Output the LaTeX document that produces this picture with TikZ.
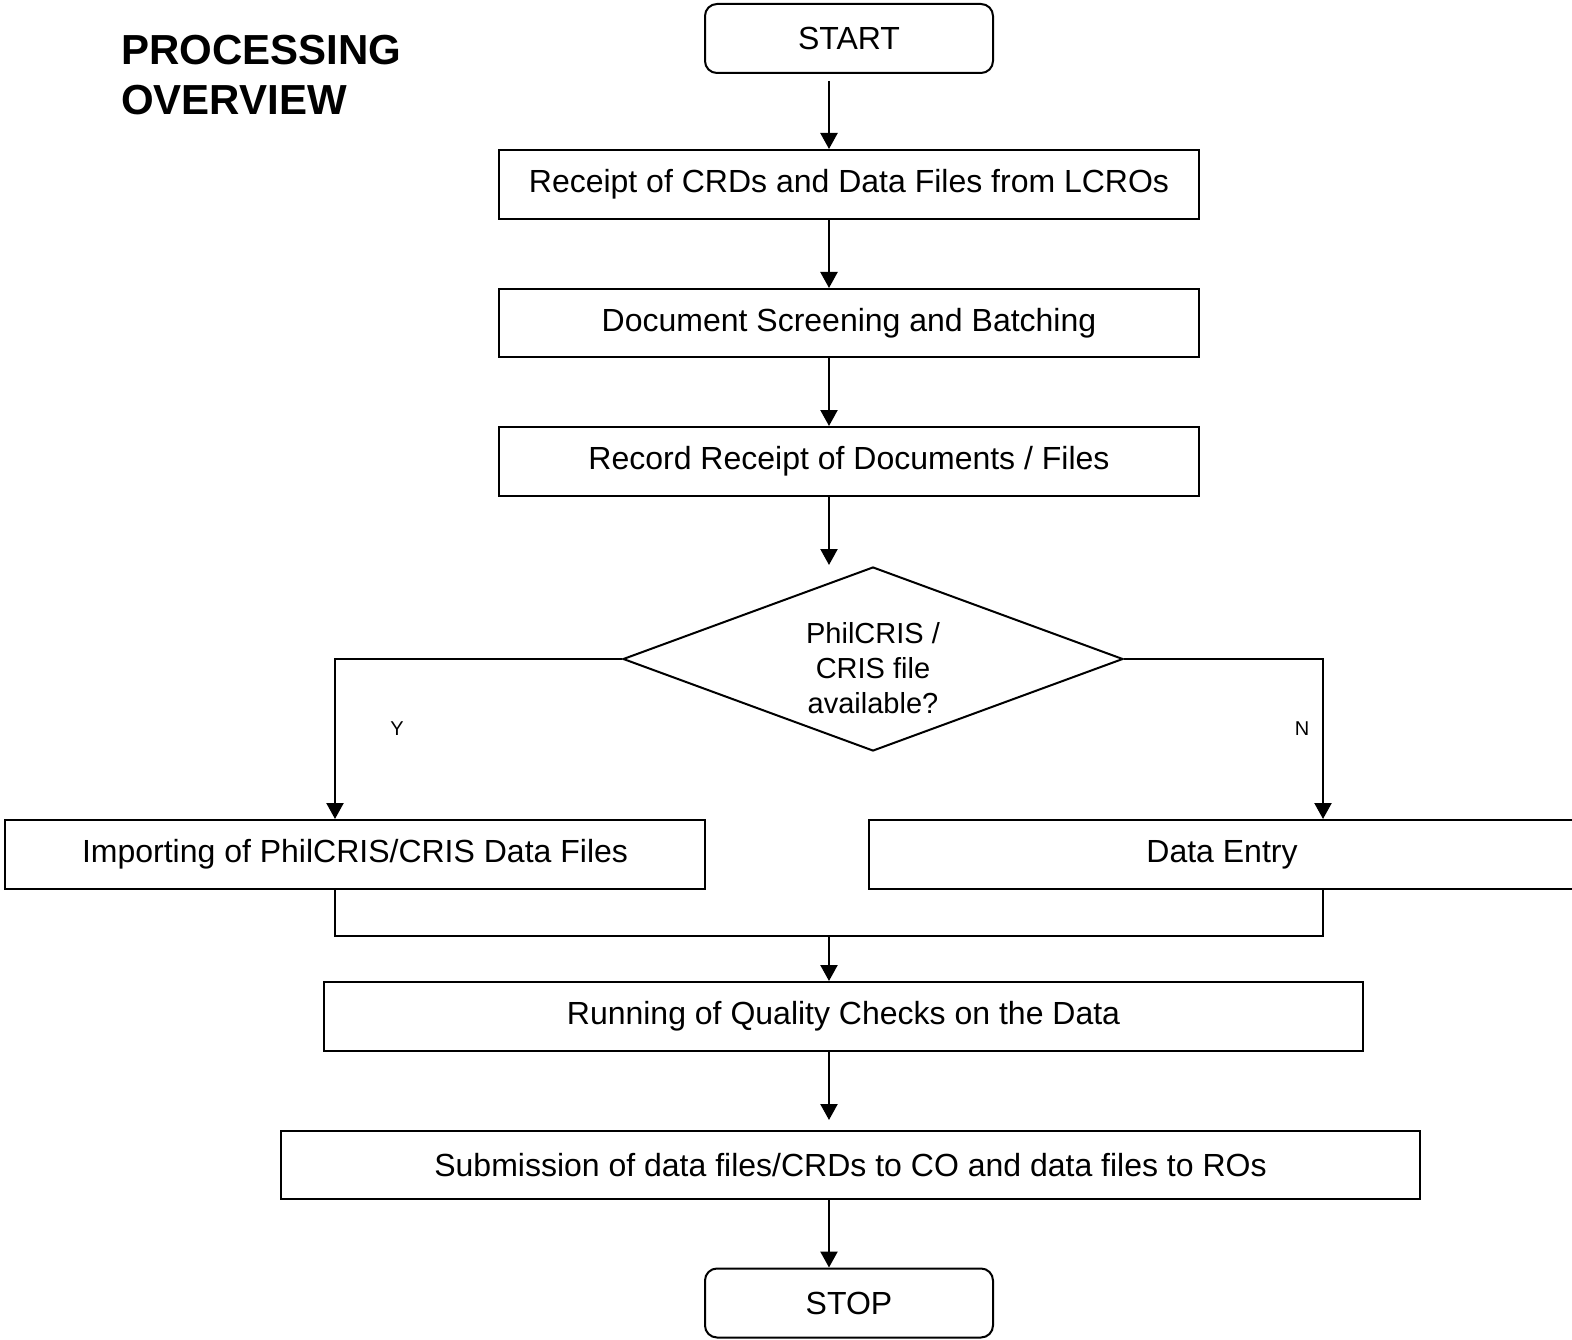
\documentclass[tikz,border=0pt]{standalone}
\usepackage{fontspec}
\setmainfont{Liberation Sans}
\usetikzlibrary{shapes.geometric,arrows.meta}
\begin{document}
\begin{tikzpicture}[x=1pt,y=-1pt,
  box/.style={draw,line width=2pt,rectangle,inner sep=0pt,font=\fontsize{32}{38}\selectfont},
  term/.style={box,rounded corners=12pt},
  arr/.style={line width=2.3pt,-{Triangle[width=17pt,length=16pt]}},
  mergeline/.style={line width=1.6pt},
  lbl/.style={font=\fontsize{20}{24}\selectfont,inner sep=0pt}]
\useasboundingbox (0,0) rectangle (1572,1340);
\clip (0,0) rectangle (1572,1340);
\node[anchor=north west,align=left,inner sep=0pt,font=\bfseries\fontsize{42}{50}\selectfont] (title) at (121,35) {PROCESSING\\OVERVIEW};
\node[term,minimum width=288pt,minimum height=69pt] (start) at (849,38.5) {START};
\node[box,minimum width=700pt,minimum height=69pt] (b1) at (849,184.5) {Receipt of CRDs and Data Files from LCROs};
\node[box,minimum width=700pt,minimum height=68pt] (b2) at (849,323) {Document Screening and Batching};
\node[box,minimum width=700pt,minimum height=69pt] (b3) at (849,461.5) {Record Receipt of Documents / Files};
\node[diamond,draw,line width=2pt,inner sep=0pt,aspect=2.7,minimum width=500pt,minimum height=184pt] (dia) at (873,659) {};
\node[align=center,inner sep=0pt,font=\fontsize{29}{35}\selectfont] (diatext) at ([yshift=-9pt]dia.center) {PhilCRIS /\\CRIS file\\available?};
\node[box,minimum width=700pt,minimum height=69pt] (imp) at (355,854.5) {Importing of PhilCRIS/CRIS Data Files};
\node[box,minimum width=706pt,minimum height=69pt] (de) at (1222,854.5) {Data Entry};
\node[box,minimum width=1039pt,minimum height=69pt] (run) at (843.5,1016.5) {Running of Quality Checks on the Data};
\node[box,minimum width=1139pt,minimum height=68pt] (sub) at (850.5,1165) {Submission of data files/CRDs to CO and data files to ROs};
\node[term,minimum width=288pt,minimum height=69pt] (stop) at (849,1303) {STOP};
\node[lbl] (ylab) at (397,729) {Y};
\node[lbl] (nlab) at (1302,729) {N};
\coordinate (ax) at (829,0);
\coordinate (lx) at (335,0);
\coordinate (rx) at (1323,0);
\coordinate (dtop) at (829,565);
\coordinate (m1) at (335,936);
\coordinate (m2) at (1323,936);
\coordinate (mc) at (829,936);
\draw[arr] ([yshift=-7pt]start.south -| ax) -- (b1.north -| ax);
\draw[arr] (b1.south -| ax) -- (b2.north -| ax);
\draw[arr] (b2.south -| ax) -- (b3.north -| ax);
\draw[arr] (b3.south -| ax) -- (dtop);
\draw[arr] (dia.west) -| (imp.north -| lx);
\draw[arr] (dia.east) -| (de.north -| rx);
\draw[mergeline] (imp.south -| lx) -- (m1) -- (m2) -- (de.south -| rx);
\draw[arr] (mc) -- (run.north -| ax);
\draw[arr,shorten >=10pt] (run.south -| ax) -- (sub.north -| ax);
\draw[arr] (sub.south -| ax) -- (stop.north -| ax);
\end{tikzpicture}
\end{document}
